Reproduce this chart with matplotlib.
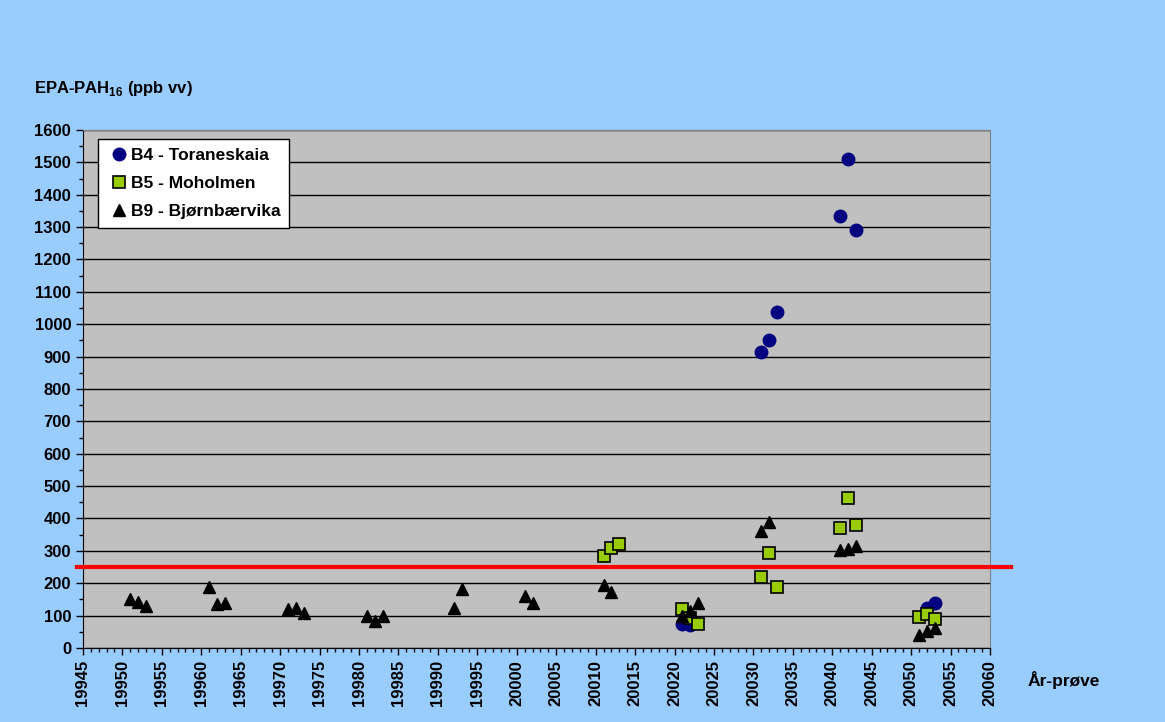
import numpy as np
import matplotlib
matplotlib.use("Agg")
import matplotlib.pyplot as plt
from matplotlib.ticker import MultipleLocator

plt.rcParams['font.family'] = ['Liberation Sans', 'DejaVu Sans']
plt.rcParams['font.weight'] = 'bold'
plt.rcParams['mathtext.fontset'] = 'custom'
plt.rcParams['mathtext.bf'] = 'Liberation Sans:bold'
plt.rcParams['mathtext.rm'] = 'Liberation Sans:bold'

# sample code = year*10 + sample number (as in the original sheet)
b4_x = [20021, 20022, 20031, 20032, 20033, 20041, 20042, 20043, 20052, 20053]
b4_y = [75, 70, 915, 952, 1038, 1333, 1510, 1290, 125, 138]

b5_x = [20011, 20012, 20013, 20021, 20022, 20023, 20031, 20032, 20033,
        20041, 20042, 20043, 20051, 20052, 20053]
b5_y = [283, 308, 320, 120, 92, 75, 218, 292, 188,
        370, 463, 380, 95, 105, 90]

b9_x = [19951, 19952, 19953, 19961, 19962, 19963, 19971, 19972, 19973,
        19981, 19982, 19983, 19992, 19993, 20001, 20002, 20011, 20012,
        20021, 20022, 20023, 20031, 20032, 20041, 20042, 20043,
        20051, 20052, 20053]
b9_y = [150, 143, 130, 188, 135, 138, 120, 123, 108,
        98, 82, 100, 125, 183, 160, 140, 195, 172,
        100, 115, 138, 360, 390, 303, 306, 315,
        40, 52, 62]

limit = 250

fig = plt.figure(figsize=(11.65, 7.22), dpi=100)
fig.patch.set_facecolor('#99CCFF')
ax = fig.add_axes([0.0712, 0.1025, 0.7786, 0.7175])
ax.set_facecolor('#C0C0C0')

ax.yaxis.grid(True, which='major', color='black', linewidth=1)
ax.set_axisbelow(True)

ax.plot(b4_x, b4_y, 'o', color='#000080', markersize=9, linestyle='none',
        label='B4 - Toraneskaia', zorder=3)
ax.plot(b5_x, b5_y, 's', markerfacecolor='#99CC00', markeredgecolor='black',
        markeredgewidth=1.2, markersize=9, linestyle='none',
        label='B5 - Moholmen', zorder=3)
ax.plot(b9_x, b9_y, '^', color='black', markersize=9, linestyle='none',
        label='B9 - Bjørnbærvika', zorder=3)

ax.plot([19944.2, 20062.6], [limit, limit], color='red', linewidth=3,
        clip_on=False, zorder=4)

ax.set_xlim(19945, 20060)
ax.set_ylim(0, 1600)
ax.xaxis.set_major_locator(MultipleLocator(5))
ax.xaxis.set_minor_locator(MultipleLocator(1))
ax.yaxis.set_major_locator(MultipleLocator(100))
ax.yaxis.set_minor_locator(MultipleLocator(50))
ax.tick_params(axis='both', which='major', length=5, width=1, labelsize=12)
ax.tick_params(axis='both', which='minor', length=3, width=1)
ax.tick_params(axis='x', labelrotation=90)
for s in ['top', 'right']:
    ax.spines[s].set_color('#808080')
for s in ['left', 'bottom']:
    ax.spines[s].set_color('black')
for lab in ax.get_xticklabels() + ax.get_yticklabels():
    lab.set_fontweight('bold')

leg = ax.legend(loc='upper left', bbox_to_anchor=(0.0165, 0.982), fontsize=12.5,
                frameon=True, fancybox=False, handletextpad=0.0,
                handlelength=1.4, borderpad=0.5, labelspacing=0.75,
                borderaxespad=0)
leg.get_frame().set_edgecolor('black')
leg.get_frame().set_facecolor('white')
leg.get_frame().set_alpha(1)
for t in leg.get_texts():
    t.set_fontweight('bold')

fig.text(0.029, 0.878, r'EPA-PAH$_{\mathbf{16}}$ (ppb vv)', fontsize=12,
         fontweight='bold', ha='left', va='center')
fig.text(0.882, 0.058, 'År-prøve', fontsize=12.5, fontweight='bold',
         ha='left', va='center')

fig.savefig('out.png', dpi=100, facecolor=fig.get_facecolor())
